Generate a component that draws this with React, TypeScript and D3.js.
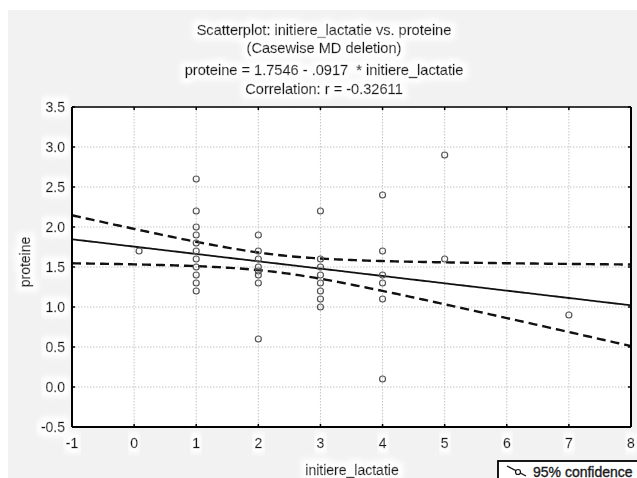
import React from "react";
import * as d3 from "d3";

const lactatie = [
  0.08,
  1, 1, 1, 1, 1, 1, 1, 1, 1, 1, 1,
  2, 2, 2, 2, 2, 2, 2, 2,
  3, 3, 3, 3, 3, 3, 3, 3,
  4, 4, 4, 4, 4, 4,
  5, 5,
  7,
];
const proteine = [
  1.7,
  2.6, 2.2, 2.0, 1.9, 1.8, 1.7, 1.6, 1.5, 1.4, 1.3, 1.2,
  1.9, 1.7, 1.6, 1.5, 1.45, 1.4, 1.3, 0.6,
  2.2, 1.6, 1.5, 1.4, 1.3, 1.2, 1.1, 1.0,
  2.4, 1.7, 1.4, 1.3, 1.1, 0.1,
  2.9, 1.6,
  0.9,
];
// regression: proteine = intercept + slope * initiere_lactatie
const intercept = 1.7546;
const slope = -0.0917;
// 95% confidence band statistics
const ciMeanX = 2.24; // x at which the band is narrowest
const ciHalfAtMean = 0.108; // half-width at the mean of x
const ciSlopeHalf = 0.0865; // t * SE(slope)

const xTicks = [-1, 0, 1, 2, 3, 4, 5, 6, 7, 8];
const yTicks = [-0.5, 0, 0.5, 1, 1.5, 2, 2.5, 3, 3.5];
const titleLines = [
  "Scatterplot: initiere_lactatie vs. proteine",
  "(Casewise MD deletion)",
  "proteine = 1.7546 - .0917 \u00a0* initiere_lactatie",
  "Correlation: r = -0.32611",
];
const xLabel = "initiere_lactatie";
const yLabel = "proteine";
const legendLabel = "95% confidence";

const W = 637, H = 478;
const L = 72, R = 631, T = 107, B = 427;

export default function App() {
  const x = d3.scaleLinear().domain([-1, 8]).range([L, R]);
  const y = d3.scaleLinear().domain([-0.5, 3.5]).range([B, T]);

  const xs = d3.range(-1, 8.0001, 0.05);
  const half = (v: number) =>
    Math.sqrt(ciHalfAtMean ** 2 + (ciSlopeHalf * (v - ciMeanX)) ** 2);
  const line = d3.line<[number, number]>().x((d) => x(d[0])).y((d) => y(d[1]));
  const fit = line(xs.map((v) => [v, intercept + slope * v]))!;
  const up = line(xs.map((v) => [v, intercept + slope * v + half(v)]))!;
  const lo = line(xs.map((v) => [v, intercept + slope * v - half(v)]))!;

  const fmtX = (v: number) => d3.format("d")(v).replace("\u2212", "-");
  const fmtY = (v: number) => d3.format(".1f")(v).replace("\u2212", "-");

  const font = "Arial, 'Liberation Sans', sans-serif";
  const titleY = [35, 53, 75, 94];
  const txt = { fontSize: 14, fill: "#1a1a1a", stroke: "#1a1a1a", strokeWidth: 0.35 };
  const ttl = { fontSize: 14.6, fill: "#1a1a1a", stroke: "#1a1a1a", strokeWidth: 0.35 };

  return (
    <svg width={W} height={H} style={{ position: "absolute", left: 0, top: 0 }} fontFamily={font}>
      <defs>
        <filter id="halo" x="-20%" y="-60%" width="140%" height="220%">
          <feMorphology in="SourceAlpha" operator="dilate" radius="5" result="d" />
          <feGaussianBlur in="d" stdDeviation="2.5" result="b" />
          <feFlood floodColor="#ffffff" />
          <feComposite in2="b" operator="in" result="w" />
          <feMerge>
            <feMergeNode in="w" />
            <feMergeNode in="SourceGraphic" />
          </feMerge>
        </filter>
        <clipPath id="plot">
          <rect x={L} y={T} width={R - L} height={B - T} />
        </clipPath>
      </defs>
      <rect x={0} y={0} width={W} height={H} fill="#ffffff" />
      <rect x={8} y={10} width={W - 8} height={H - 10} fill="#f2f2f2" />
      <rect x={L} y={T} width={R - L} height={B - T} fill="#ffffff" />

      {xTicks.map((v) => (
        <line key={"gx" + v} x1={x(v)} x2={x(v)} y1={T} y2={B} stroke="#c4c4c4" strokeWidth={1} strokeDasharray="1.5,1.5" />
      ))}
      {yTicks.map((v) => (
        <line key={"gy" + v} x1={L} x2={R} y1={y(v)} y2={y(v)} stroke="#c4c4c4" strokeWidth={1} strokeDasharray="1.5,1.5" />
      ))}

      <g clipPath="url(#plot)" fill="none" stroke="#111">
        <path d={up} strokeWidth={2.4} strokeDasharray="9,5" />
        <path d={lo} strokeWidth={2.4} strokeDasharray="9,5" />
        <path d={fit} strokeWidth={1.8} />
      </g>

      {lactatie.map((v, i) => (
        <circle key={"p" + i} cx={x(v)} cy={y(proteine[i])} r={3} fill="none" stroke="#555" strokeWidth={1.2} />
      ))}

      {/* frame */}
      <line x1={L} x2={R} y1={T} y2={T} stroke="#000" strokeWidth={1.3} />
      <line x1={R} x2={R} y1={T} y2={B} stroke="#000" strokeWidth={2} />
      <line x1={L} x2={L} y1={T} y2={B} stroke="#000" strokeWidth={2} />
      <line x1={L} x2={R} y1={B} y2={B} stroke="#000" strokeWidth={2} />
      {xTicks.map((v) => (
        <g key={"tx" + v}>
          <line x1={x(v)} x2={x(v)} y1={B} y2={B - 3} stroke="#000" strokeWidth={1.5} />
          <line x1={x(v)} x2={x(v)} y1={T} y2={T + 3} stroke="#000" strokeWidth={1.5} />
        </g>
      ))}
      {yTicks.map((v) => (
        <g key={"ty" + v}>
          <line x1={L} x2={L + 3} y1={y(v)} y2={y(v)} stroke="#000" strokeWidth={1.5} />
          <line x1={R} x2={R - 3} y1={y(v)} y2={y(v)} stroke="#000" strokeWidth={1.5} />
        </g>
      ))}

      {/* tick labels */}
      {xTicks.map((v) => (
        <text key={"lx" + v} x={x(v)} y={448} textAnchor="middle" {...txt} filter="url(#halo)">
          {fmtX(v)}
        </text>
      ))}
      {yTicks.map((v) => (
        <text key={"ly" + v} x={65} y={y(v) + 5} textAnchor="end" {...txt} filter="url(#halo)">
          {fmtY(v)}
        </text>
      ))}

      {/* titles */}
      {titleLines.map((s2, i) => (
        <text key={"t" + i} x={324} y={titleY[i]} textAnchor="middle" {...ttl} filter="url(#halo)">
          {s2}
        </text>
      ))}
      <text x={352} y={475} textAnchor="middle" {...txt} filter="url(#halo)">{xLabel}</text>
      <text transform="translate(30,262) rotate(-90)" textAnchor="middle" {...txt} filter="url(#halo)">{yLabel}</text>

      {/* legend */}
      <rect x={498} y={461} width={150} height={30} fill="#ffffff" stroke="#000" strokeWidth={1.8} />
      <line x1={507} y1={466} x2={526} y2={476} stroke="#111" strokeWidth={1.3} />
      <circle cx={518} cy={472} r={2.5} fill="#fff" stroke="#111" strokeWidth={1.2} />
      <text x={533} y={477} {...txt}>{legendLabel}</text>
    </svg>
  );
}
